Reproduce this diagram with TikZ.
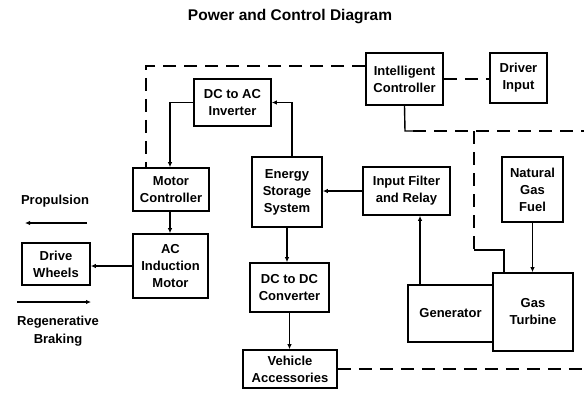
\documentclass[tikz,border=0pt]{standalone}
\usepackage{fontspec}
\setmainfont{Liberation Sans}
\usetikzlibrary{arrows.meta,calc}
\begin{document}
\begin{tikzpicture}[x=1pt,y=-1pt,
  blk/.style={draw,line width=1.7pt,inner sep=1pt,align=center,font=\bfseries\fontsize{13}{17}\selectfont},
  lbl/.style={inner sep=0pt,align=center,font=\bfseries\fontsize{13}{18}\selectfont},
  arr/.style={line width=1.4pt,-{Latex[length=5pt,width=4.5pt]}},
  ln/.style={line width=1.4pt},
  dsh/.style={line width=1.5pt,dash pattern=on 13pt off 8pt}]
\useasboundingbox (0,0) rectangle (584,394);
\node[font=\bfseries\fontsize{15.5}{18}\selectfont] (title) at (290,17) {Power and Control Diagram};
\node[blk,minimum width=77pt,minimum height=52pt] (ic) at (404.5,79) {Intelligent\\Controller};
\node[blk,minimum width=57pt,minimum height=50pt] (di) at (518.5,78) {Driver\\Input};
\node[blk,minimum width=77pt,minimum height=47pt] (inv) at (232.5,102.5) {DC to AC\\Inverter};
\node[blk,minimum width=76pt,minimum height=43pt] (mc) at (171,189.5) {Motor\\Controller};
\node[blk,minimum width=75pt,minimum height=64pt] (acm) at (170.5,266) {AC\\Induction\\Motor};
\node[blk,minimum width=68pt,minimum height=42pt] (dw) at (56,264) {Drive\\Wheels};
\node[blk,minimum width=70pt,minimum height=70pt] (ess) at (287,192) {Energy\\Storage\\System};
\node[blk,minimum width=79pt,minimum height=49pt] (dcdc) at (289.5,287.5) {DC to DC\\Converter};
\node[blk,minimum width=94pt,minimum height=38pt] (va) at (290,369) {Vehicle\\Accessories};
\node[blk,minimum width=87pt,minimum height=48pt] (ifr) at (406.5,191) {Input Filter\\and Relay};
\node[blk,minimum width=85pt,minimum height=57pt] (gen) at (450.5,313.5) {Generator};
\node[blk,minimum width=80pt,minimum height=78pt] (gt) at (533,312) {Gas\\Turbine};
\node[blk,minimum width=61pt,minimum height=65pt] (ngf) at (532.5,189.5) {Natural\\Gas\\Fuel};
\node[lbl] (prop) at (55,201) {Propulsion};
\node[lbl] (regen) at (58,331) {Regenerative\\Braking};
\coordinate (p1) at (87,223);
\coordinate (p2) at (25,223);
\coordinate (r1) at (17,302);
\coordinate (r2) at (91,302);
\draw[arr] (p1) -- (p2);
\draw[arr] (r1) -- (r2);
% power connectors
\draw[arr] ([xshift=5pt]ess.north) |- (inv.east);
\draw[arr] (inv.west) -| ([xshift=-1pt]mc.north);
\draw[arr] ([xshift=-1pt]mc.south) -- ([xshift=-1pt]mc.south |- acm.north);
\draw[arr] (acm.west) -- (acm.west -| dw.east);
\draw[arr] (ess.south) -- (ess.south |- dcdc.north);
\draw[arr] (dcdc.south) -- (dcdc.south |- va.north);
\draw[arr] (ifr.west) -- (ifr.west -| ess.east);
\draw[arr] ([xshift=-30.5pt]gen.north) -- ([xshift=13.5pt]ifr.south);
\draw[arr] (ngf.south) -- (ngf.south |- gt.north);
% control lines
\coordinate (c1) at (146,66);
\coordinate (c2) at (405,131);
\coordinate (c3) at (584,131);
\coordinate (c4) at (474,131);
\coordinate (c5) at (474,250);
\coordinate (c6) at (504,250);
\coordinate (c7) at (584,372);
\draw[dsh] (c1 -| ic.west) -- (c1) -- (c1 |- mc.north);
\draw[dsh] (ic.east) -- (ic.east -| di.west);
\draw[ln] (ic.south) -- (c2) -- ++(8,0);
\draw[dsh] ([xshift=8pt]c2) -- (c3);
\draw[dsh] (c4) -- (c5);
\draw[ln] (c5) -- (c6) -- (c6 |- gt.north);
\draw[dsh] (va.east) -- (va.east -| c7);
\end{tikzpicture}
\end{document}
